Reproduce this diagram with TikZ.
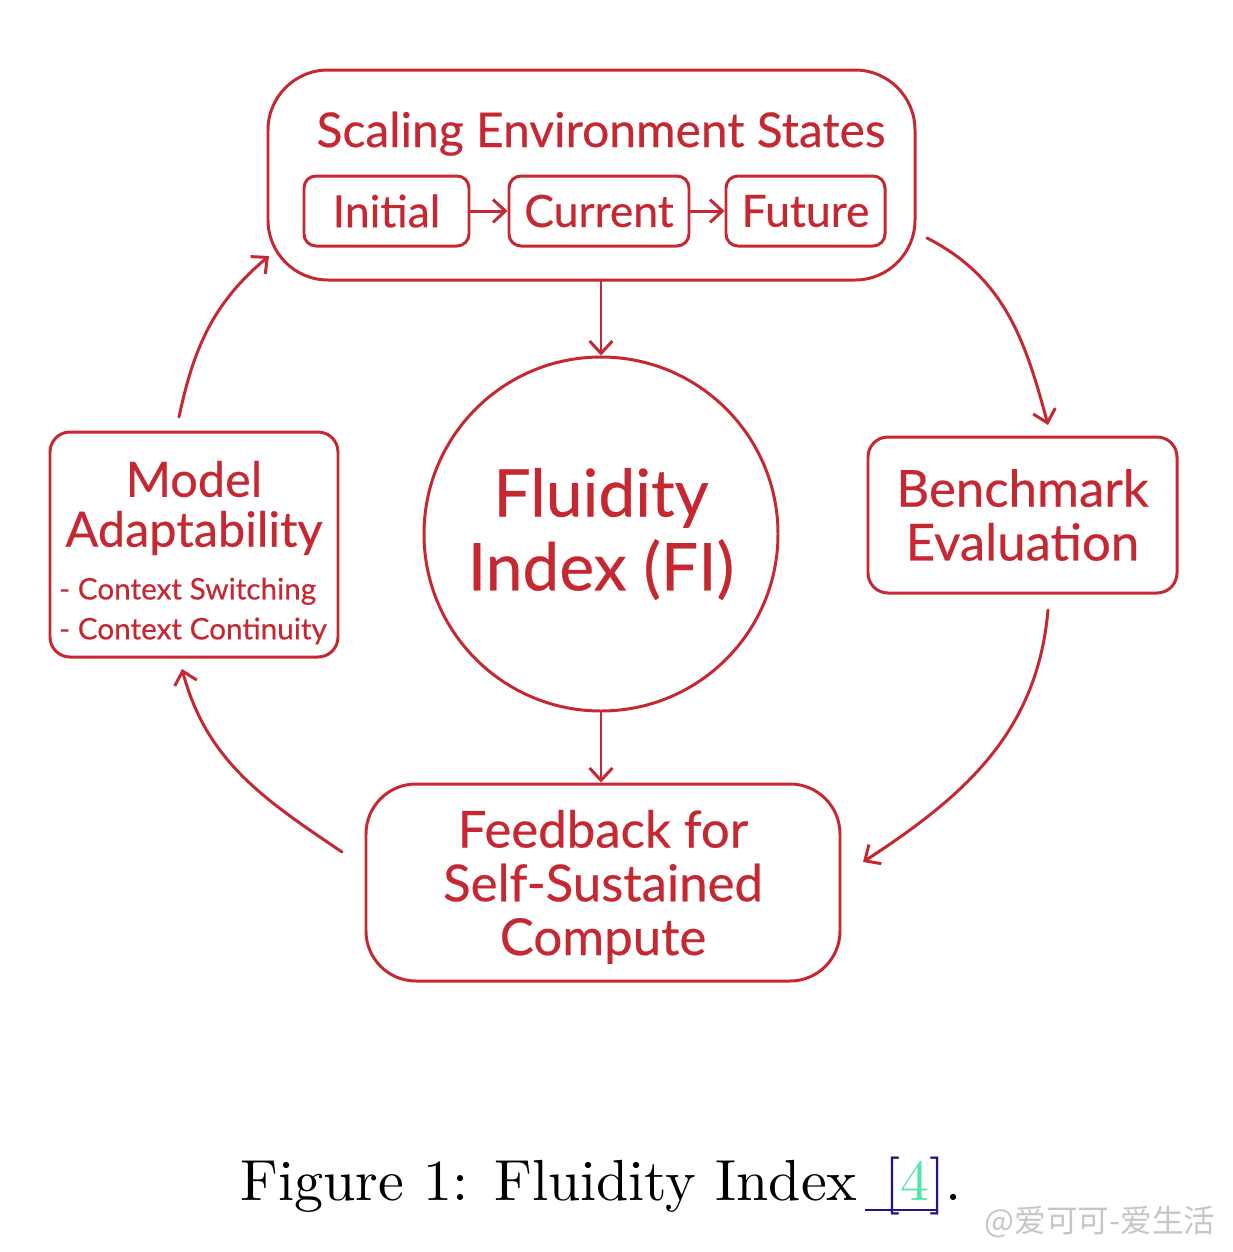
\documentclass[tikz,border=0pt]{standalone}
\usepackage{fontspec}
\usetikzlibrary{calc}
\usetikzlibrary{arrows.meta}
\newfontfamily\diagfont[FakeBold=0.4]{Lato}
\newfontfamily\capfont[Extension=.otf]{lmroman10-regular}
\newfontfamily\cjkfont{Noto Sans CJK SC}
\definecolor{fired}{RGB}{198,40,50}
\definecolor{linkblue}{RGB}{35,20,135}
\definecolor{citegreen}{RGB}{85,228,172}

\begin{document}
\begin{tikzpicture}[inner sep=0pt,
  box/.style={draw=fired, line width=1.7pt, rounded corners=#1, align=center, text=fired},
  lbl/.style={text=fired, align=center},
  arr/.style={draw=fired, line width=1.7pt, line cap=round, -{Straight Barb[length=7pt,width=13pt]}}]
\def\u{0.02cm}
\useasboundingbox (0,0) rectangle (1232*\u, -1252*\u);

\node[box=60*\u, minimum width=647*\u, minimum height=210*\u] (scaling) at (591.5*\u, -175*\u) {};
\node[lbl, anchor=base, font=\diagfont\fontsize{27.3}{30}\selectfont] (sctitle) at (601*\u, -147*\u) {Scaling Environment States};
\node[box=12*\u, minimum width=165*\u, minimum height=70*\u, font=\diagfont\fontsize{25.3}{30}\selectfont] (initial) at (386.5*\u, -211*\u) {Initial};
\node[box=12*\u, minimum width=180*\u, minimum height=70*\u, font=\diagfont\fontsize{25.3}{30}\selectfont] (current) at (599*\u, -211*\u) {Current};
\node[box=12*\u, minimum width=159*\u, minimum height=70*\u, font=\diagfont\fontsize{25.3}{30}\selectfont] (future) at (805.5*\u, -211*\u) {Future};

\node[circle, draw=fired, line width=1.7pt, minimum size=354*\u, lbl, font=\diagfont\fontsize{37.5}{42}\selectfont] (fi) at (601*\u, -534*\u) {Fluidity\\Index (FI)};

\node[box=20*\u, minimum width=288*\u, minimum height=225*\u] (model) at (194*\u, -544.5*\u) {};
\node[lbl, font=\diagfont\fontsize{27.7}{28.4}\selectfont] (modeltxt) at (194*\u, -508*\u) {Model\\Adaptability};
\node[lbl, align=left, font=\diagfont\fontsize{16.9}{22.7}\selectfont] (ctxtxt) at (193*\u, -611*\u) {- Context Switching\\- Context Continuity};

\node[box=20*\u, minimum width=309*\u, minimum height=156*\u, font=\diagfont\fontsize{29}{30.6}\selectfont] (bench) at (1022.5*\u, -515*\u) {Benchmark\\Evaluation};

\node[box=50*\u, minimum width=474*\u, minimum height=197*\u, text depth=0pt, font=\diagfont\fontsize{29}{30.6}\selectfont] (feedback) at (603*\u, -882.5*\u) {Feedback for\\Self-Sustained\\Compute};

\draw[arr] (initial.east) -- (current.west);
\draw[arr] (current.east) -- (future.west);
\draw[arr] (fi.north |- scaling.south) -- (fi.north);
\draw[arr] (fi.south) -- (fi.south |- feedback.north);

\coordinate (c1) at (927*\u, -238*\u);
\coordinate (c2) at (1048*\u, -425*\u);
\coordinate (c3) at (1048*\u, -610*\u);
\coordinate (c4) at (863*\u, -862*\u);
\coordinate (c5) at (342*\u, -852*\u);
\coordinate (c6) at (182*\u, -669*\u);
\coordinate (c7) at (179*\u, -417*\u);
\coordinate (c8) at (269*\u, -256*\u);
\draw[arr] (c1) to[out=-27, in=105] (c2);
\draw[arr] (c3) to[out=-95, in=33] (c4);
\draw[arr] (c5) to[out=146, in=-75] (c6);
\draw[arr] (c7) to[out=78, in=220] (c8);

\node[anchor=base, font=\capfont\fontsize{33}{40}\selectfont] (caption) at (601*\u, -1200*\u) {Figure 1: Fluidity Index\hspace{0.12em}\rlap{\color{linkblue}\rule[-0.19em]{1.23em}{0.035em}}\hspace{0.34em}{\color{linkblue}[}{\color{citegreen}4}{\color{linkblue}]}.};
\node[font=\cjkfont\fontsize{18}{18}\selectfont, text=gray!45] (wmark) at (1100*\u, -1222*\u) {@爱可可-爱生活};
\end{tikzpicture}
\end{document}
